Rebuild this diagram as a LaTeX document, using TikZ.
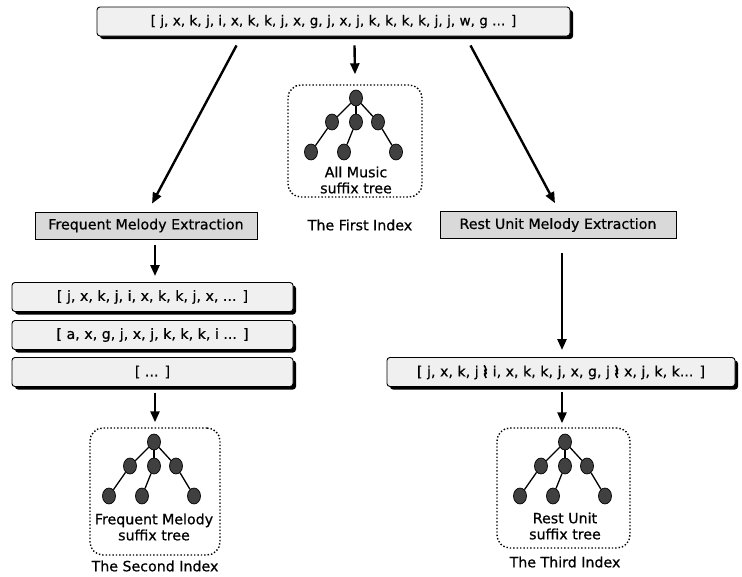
\documentclass[tikz,border=0pt]{standalone}
\usepackage{fontspec}
\setmainfont{DejaVu Sans}[FakeBold=0.6]
\usetikzlibrary{shadows,arrows.meta,shapes.geometric,calc}
\newcommand\restsym{\tikz[baseline=0pt,x=1pt,y=1pt]\draw[line width=1.6pt,line join=round] (0.8,11) -- (3.8,7.4) -- (1,5) -- (4.2,1.8) .. controls (1.4,2.8) and (1,1) .. (3,-1.5);}
\begin{document}
\begin{tikzpicture}[x=1pt,y=-1pt,
  txt/.style={font=\fontsize{14.2}{16}\selectfont},
  lbox/.style={txt,draw=black,line width=0.9pt,rounded corners=3pt,fill=gray!12,
    drop shadow={shadow xshift=3pt,shadow yshift=-3pt,fill=black,opacity=1},
    inner sep=0pt,minimum height=29pt},
  ebox/.style={txt,draw=black,line width=0.6pt,fill=gray!30,inner sep=0pt,minimum height=27pt},
  arr/.style={line width=2.4pt,-{Triangle[length=11pt,width=9pt]}},
  tbox/.style={draw,dotted,line width=1.4pt,rounded corners=13pt},
  tn/.style={ellipse,draw=black,line width=0.7pt,fill=black!75,minimum width=13pt,minimum height=16pt,inner sep=0pt},
  tedge/.style={line width=1.3pt},
  stree/.pic={
    \node[tn] (r) at (0,0) {};
    \node[tn] (a) at (-24,24) {};
    \node[tn] (b) at (0,24) {};
    \node[tn] (c) at (22,24) {};
    \node[tn] (d) at (-45,54) {};
    \node[tn] (e) at (-12,54) {};
    \node[tn] (f) at (40,54) {};
    \draw[tedge] (r) -- (a); \draw[tedge] (r) -- (b); \draw[tedge] (r) -- (c);
    \draw[tedge] (a) -- (d); \draw[tedge] (b) -- (e); \draw[tedge] (c) -- (f);
  }]
\useasboundingbox (0,0) rectangle (742,576);

% top sequence
\node[lbox,minimum width=473pt,font=\fontsize{13.6}{16}\selectfont] (tb) at (333.5,21.5) {[ j, x, k, j, i, x, k, k, j, x, g, j, x, j, k, k, k, k, j, j, w, g ... ]};

% first index
\node[tbox,minimum width=134pt,minimum height=112pt] (b1) at (355,141) {};
\pic (t1) at (356,98) {stree};
\node[txt,align=center] (l1) at (356,180) {All Music\\suffix tree};
\node[txt] (n1) at (360,225) {The First Index};

% frequent branch
\node[ebox,minimum width=222pt] (fme) at (146,225.5) {Frequent Melody Extraction};
\node[lbox,minimum width=281pt] (f1) at (152.5,297) {[ j, x, k, j, i, x, k, k, j, x, ... ]};
\node[lbox,minimum width=281pt] (f2) at (152.5,335) {[ a, x, g, j, x, j, k, k, k, i ... ]};
\node[lbox,minimum width=281pt] (f3) at (152.5,372) {[ ... ]};
\node[tbox,minimum width=130pt,minimum height=127pt] (b2) at (155,491.5) {};
\pic (t2) at (154,442) {stree};
\node[txt,align=center] (l2) at (154,527) {Frequent Melody\\suffix tree};
\node[txt] (n2) at (155,566) {The Second Index};

% rest branch
\node[ebox,minimum width=236pt] (rme) at (558,225) {Rest Unit Melody Extraction};
\node[lbox,minimum width=348pt] (rl) at (561,372) {[ j, x, k, j \restsym{} i, x, k, k, j, x, g, j \restsym{} x, j, k, k... ]};
\node[tbox,minimum width=133pt,minimum height=120pt] (b3) at (563.5,488) {};
\pic (t3) at (565,442) {stree};
\node[txt,align=center] (l3) at (565,526) {Rest Unit\\suffix tree};
\node[txt] (n3) at (565,562) {The Third Index};

% arrows
\draw[arr] ([xshift=-97pt,yshift=-9pt]tb.south) -- ([xshift=6pt,yshift=8pt]fme.north);
\draw[arr] ([xshift=21pt,yshift=-9pt]tb.south) -- ([yshift=10pt]b1.north);
\draw[arr] ([xshift=137pt,yshift=-9pt]tb.south) -- ([xshift=-3pt,yshift=8pt]rme.north);
\draw[arr] ([xshift=9pt,yshift=-6pt]fme.south) -- ([xshift=2.5pt,yshift=6pt]f1.north);
\draw[arr] ([xshift=2.5pt,yshift=-6pt]f3.south) -- ([yshift=5pt]b2.north);
\draw[arr] ([xshift=4pt,yshift=-14pt]rme.south) -- ([xshift=1pt,yshift=7pt]rl.north);
\draw[arr] ([xshift=1pt,yshift=-5pt]rl.south) -- ([xshift=-1.5pt,yshift=4pt]b3.north);
\end{tikzpicture}
\end{document}
